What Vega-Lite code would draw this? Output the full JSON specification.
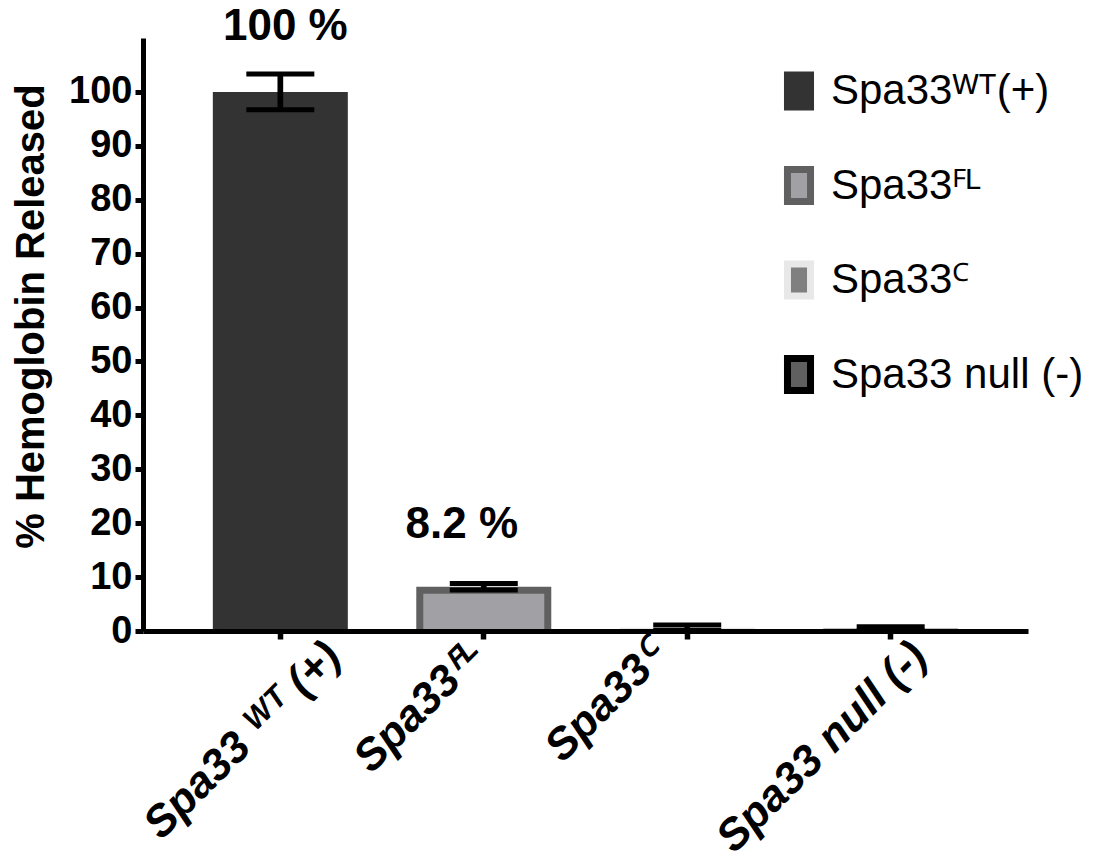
{
  "$schema": "https://vega.github.io/schema/vega-lite/v6.json",
  "autosize": {"type": "none"},
  "padding": {"left": 143, "top": 38, "right": 89, "bottom": 230},
  "width": 885,
  "height": 593,
  "background": "white",
  "config": {
    "view": {"stroke": null},
    "font": "Liberation Sans"
  },
  "data": {
    "values": [
      {"group": "Spa33ᵂᵀ(+)", "value": 100, "lo": 96.7, "hi": 103.3, "label": "100 %"},
      {"group": "Spa33ꟳᴸ", "value": 8.2, "lo": 7.6, "hi": 8.8, "label": "8.2 %"},
      {"group": "Spa33ꟲ", "value": 0.6, "lo": 0.1, "hi": 1.1, "label": ""},
      {"group": "Spa33 null (-)", "value": 0.4, "lo": 0.0, "hi": 0.8, "label": ""}
    ]
  },
  "encoding": {
    "x": {
      "field": "group",
      "type": "nominal",
      "sort": null,
      "scale": {"paddingInner": 0.336, "paddingOuter": 0.343},
      "axis": {
        "title": null,
        "zindex": 1,
        "domainColor": "black",
        "domainWidth": 5,
        "tickColor": "black",
        "tickWidth": 5.5,
        "tickSize": 8,
        "labelAngle": -45,
        "labelFont": "Liberation Sans",
        "labelFontSize": 44,
        "labelFontWeight": "bold",
        "labelFontStyle": "italic",
        "labelColor": "black",
        "labelPadding": -5,
        "labelLimit": 600,
        "labelOffset": {
          "condition": [
            {"test": "datum.value == 'Spa33ᵂᵀ(+)'", "value": 38},
            {"test": "datum.value == 'Spa33ꟳᴸ'", "value": -22},
            {"test": "datum.value == 'Spa33ꟲ'", "value": -45}
          ],
          "value": 14
        },
        "labelExpr": "datum.value == 'Spa33ᵂᵀ(+)' ? 'Spa33 ᵂᵀ (+)' : datum.value"
      }
    }
  },
  "layer": [
    {
      "mark": {"type": "bar", "size": 128, "strokeWidth": 7, "yOffset": 3.5, "clip": true},
      "encoding": {
        "y": {
          "field": "value",
          "type": "quantitative",
          "scale": {"domain": [0, 110], "nice": false, "zero": true},
          "axis": {
            "title": "% Hemoglobin Released",
            "titleFont": "Liberation Sans",
            "titleFontSize": 40,
            "titleFontWeight": "bold",
            "titleColor": "black",
            "titlePadding": 17,
            "titleY": 278,
            "values": [0, 10, 20, 30, 40, 50, 60, 70, 80, 90, 100],
            "grid": false,
            "zindex": 1,
            "domainColor": "black",
            "domainWidth": 5,
            "tickColor": "black",
            "tickWidth": 5,
            "tickSize": 8,
            "labelFont": "Liberation Sans",
            "labelFontSize": 38,
            "labelFontWeight": "bold",
            "labelColor": "black",
            "labelPadding": 3
          }
        },
        "fill": {
          "field": "group",
          "type": "nominal",
          "sort": null,
          "scale": {"range": ["#333333", "#a0a0a5", "#808080", "#606060"]},
          "legend": {
            "orient": "none",
            "legendX": 635,
            "legendY": 32,
            "title": null,
            "padding": 0,
            "symbolType": "M-0.72,-1H0.72V1H-0.72Z",
            "symbolSize": 1024,
            "symbolStrokeWidth": 7,
            "symbolOpacity": 1,
            "labelFont": "Liberation Sans",
            "labelFontSize": 42,
            "labelColor": "black",
            "labelOffset": 11,
            "labelLimit": 400,
            "rowPadding": 34.5
          }
        },
        "stroke": {
          "field": "group",
          "type": "nominal",
          "sort": null,
          "scale": {"range": ["#333333", "#606060", "#e8e8e8", "#000000"]},
          "legend": {
            "orient": "none",
            "legendX": 635,
            "legendY": 32,
            "title": null,
            "padding": 0,
            "symbolType": "M-0.72,-1H0.72V1H-0.72Z",
            "symbolSize": 1024,
            "symbolStrokeWidth": 7,
            "symbolOpacity": 1,
            "labelFont": "Liberation Sans",
            "labelFontSize": 42,
            "labelColor": "black",
            "labelOffset": 11,
            "labelLimit": 400,
            "rowPadding": 34.5
          }
        }
      }
    },
    {
      "mark": {"type": "rule", "color": "black", "strokeWidth": 5.7, "clip": true},
      "encoding": {
        "y": {"field": "lo", "type": "quantitative"},
        "y2": {"field": "hi"}
      }
    },
    {
      "mark": {"type": "tick", "color": "black", "size": 68, "thickness": 5, "orient": "horizontal", "clip": true, "opacity": 1},
      "encoding": {
        "y": {"field": "hi", "type": "quantitative"}
      }
    },
    {
      "mark": {"type": "tick", "color": "black", "size": 68, "thickness": 5, "orient": "horizontal", "clip": true, "opacity": 1},
      "encoding": {
        "y": {"field": "lo", "type": "quantitative"}
      }
    },
    {
      "transform": [{"filter": "datum.value >= 50"}],
      "mark": {"type": "text", "font": "Liberation Sans", "fontSize": 44, "fontWeight": "bold", "color": "black", "baseline": "alphabetic", "align": "center", "dy": -52, "dx": 5},
      "encoding": {
        "y": {"field": "value", "type": "quantitative"},
        "text": {"field": "label"}
      }
    },
    {
      "transform": [{"filter": "datum.value < 50"}],
      "mark": {"type": "text", "font": "Liberation Sans", "fontSize": 44, "fontWeight": "bold", "color": "black", "baseline": "alphabetic", "align": "center", "dy": -49, "dx": -22},
      "encoding": {
        "y": {"field": "value", "type": "quantitative"},
        "text": {"field": "label"}
      }
    }
  ]
}
